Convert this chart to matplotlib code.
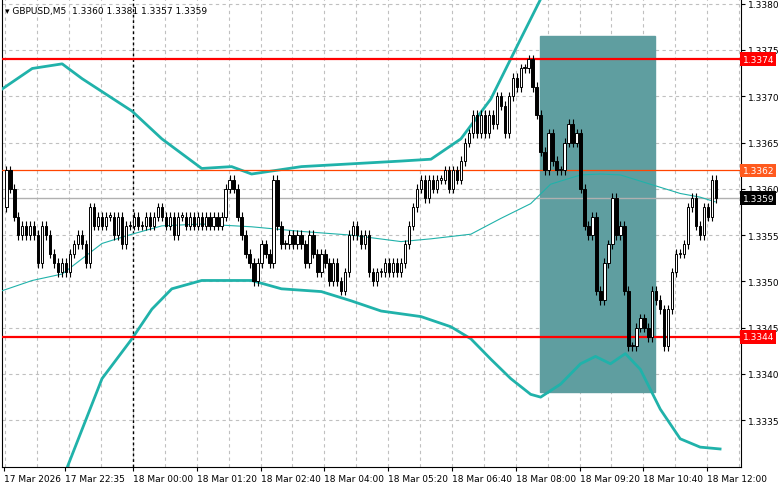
import matplotlib
matplotlib.use("Agg")
import matplotlib.pyplot as plt
from matplotlib.patches import Rectangle

closes = [1.3362,1.3360,1.3357,1.3355,1.3356,1.3355,1.3356,1.3355,1.3352,1.3356,
          1.3355,1.3353,1.3352,1.3351,1.3352,1.3351,1.3353,1.3354,1.3355,1.3354,
          1.3352,1.3358,1.3356,1.3357,1.3356,1.3357,1.3357,1.3355,1.3357,1.3354,
          1.3356,1.3356,1.3357,1.3356,1.3356,1.3357,1.3356,1.3357,1.3358,1.3357,
          1.3356,1.3357,1.3355,1.3357,1.3357,1.3356,1.3357,1.3356,1.3357,1.3356,
          1.3357,1.3356,1.3357,1.3356,1.3357,1.3360,1.3361,1.3360,1.3357,1.3355,
          1.3353,1.3352,1.3350,1.3352,1.3354,1.3353,1.3352,1.3361,1.3356,1.3354,
          1.3354,1.3355,1.3354,1.3355,1.3354,1.3352,1.3355,1.3353,1.3351,1.3353,
          1.3352,1.3350,1.3352,1.3350,1.3349,1.3351,1.3355,1.3356,1.3355,1.3354,
          1.3355,1.3351,1.3350,1.3351,1.3351,1.3352,1.3351,1.3352,1.3351,1.3352,
          1.3354,1.3356,1.3358,1.3360,1.3361,1.3359,1.3361,1.3360,1.3361,1.3361,
          1.3362,1.3360,1.3362,1.3361,1.3363,1.3365,1.3366,1.3368,1.3366,1.3368,
          1.3366,1.3368,1.3367,1.3370,1.3369,1.3366,1.3370,1.3372,1.3371,1.3373,
          1.3373,1.3374,1.3371,1.3368,1.3364,1.3362,1.3366,1.3363,1.3362,1.3362,
          1.3365,1.3367,1.3365,1.3366,1.3360,1.3356,1.3355,1.3357,1.3349,1.3348,
          1.3352,1.3354,1.3359,1.3355,1.3356,1.3349,1.3343,1.3343,1.3345,1.3346,
          1.3345,1.3344,1.3349,1.3348,1.3347,1.3343,1.3347,1.3351,1.3353,1.3353,
          1.3354,1.3358,1.3359,1.3356,1.3355,1.3358,1.3357,1.3361,1.3359]
first_open = 1.3358
wick = 0.00005

up_i = [-1,6.5,14,19,31.5,39,49,56.5,61.5,74,86.5,99,106.5,114,121.5,129,134,137.75]
up_p = [1.33708,1.33730,1.33735,1.33719,1.33684,1.33654,1.33622,1.33624,1.33616,1.33624,
        1.33627,1.33630,1.33632,1.33654,1.33697,1.33762,1.33805,1.33838]
mid_i = [-1,6.5,14,24,31.5,39,49,61.5,74,86.5,99,106.5,116.5,124,131.5,136.5,144,149,154,161.5,169,174,177.75]
mid_p = [1.33490,1.33501,1.33508,1.33541,1.33551,1.33560,1.33562,1.33559,1.33554,1.33550,
         1.33543,1.33546,1.33551,1.33568,1.33584,1.33605,1.33615,1.33616,1.33615,1.33605,
         1.33595,1.33591,1.33586]
lo_i = [14.5,15.25,24,31.5,36.5,41.5,49,61.5,69,79,86.5,94,104,111.5,116.5,121.5,126.5,131.5,
        134,139,144,147.75,151.5,155.25,159,164,169,174,179]
lo_p = [1.33265,1.33299,1.33395,1.33438,1.33470,1.33492,1.33501,1.33501,1.33492,1.33489,
        1.33479,1.33468,1.33462,1.33451,1.33438,1.33416,1.33395,1.33378,1.33375,1.33389,
        1.33411,1.33419,1.33411,1.33422,1.33405,1.33362,1.33330,1.33321,1.33319]

time_pos = [-0.5,14.75,31.75,47.75,63.75,79.75,95.75,111.75,127.75,143.75,159.75,175.75]
time_lab = ["17 Mar 2026","17 Mar 22:35","18 Mar 00:00","18 Mar 01:20","18 Mar 02:40",
            "18 Mar 04:00","18 Mar 05:20","18 Mar 06:40","18 Mar 08:00","18 Mar 09:20",
            "18 Mar 10:40","18 Mar 12:00"]
price_ticks = [1.3335,1.3340,1.3345,1.3350,1.3355,1.3360,1.3365,1.3370,1.3375,1.3380]
red_levels = [1.3374,1.3344]
orange_level = 1.3362
bid = 1.3359
box = (133.75,162.75,1.33381,1.33765)

fig = plt.figure(figsize=(7.81,4.89),dpi=100)
ax = fig.add_axes([0.003,0.0429,0.9488-0.003,0.957])
ax.set_xlim(-1,184.25)
ax.set_ylim(1.332995,1.33805)

for t in price_ticks:
    ax.axhline(t,color="#c0c0c0",ls=(0,(3,3)),lw=0.8,zorder=0)
for k in range(-4,20):
    ax.axvline(31.75+8*k,color="#c0c0c0",ls=(0,(3,3)),lw=0.8,zorder=0)
ax.axvline(31.75,color="black",ls=(0,(2,2)),lw=1,zorder=1)

ax.add_patch(Rectangle((box[0],box[2]),box[1]-box[0],box[3]-box[2],color="#5f9ea0",zorder=1))

ax.plot(up_i,up_p,color="#20b2aa",lw=2,zorder=3,solid_joinstyle="round")
ax.plot(lo_i,lo_p,color="#20b2aa",lw=2,zorder=3,solid_joinstyle="round")
ax.plot(mid_i,mid_p,color="#20b2aa",lw=0.8,zorder=3)

ax.axhline(red_levels[0],color="#ff0000",lw=1.6,zorder=4)
ax.axhline(red_levels[1],color="#ff0000",lw=1.6,zorder=4)
ax.axhline(orange_level,color="#ff4500",lw=0.9,zorder=4)
ax.axhline(bid,color="#b0b0b0",lw=1,zorder=2)

prev = first_open
for i,c in enumerate(closes):
    o = prev
    hi = max(o,c)+wick; lo = min(o,c)-wick
    ax.vlines(i,lo,hi,color="black",lw=0.8,zorder=5)
    bot = min(o,c); h = max(abs(c-o),0.000012)
    ax.add_patch(Rectangle((i-0.3,bot),0.6,h,facecolor="white" if c>=o else "black",
                           edgecolor="black",lw=0.7,zorder=6))
    prev = c

ax.yaxis.tick_right()
ax.set_yticks(price_ticks)
ax.set_yticklabels([f"{t:.4f}" for t in price_ticks])
ax.set_xticks(time_pos)
ax.set_xticklabels(time_lab,ha="left")
ax.tick_params(labelsize=6.5,length=3,pad=2)
for s in ax.spines.values():
    s.set_color("black")
ax.spines["top"].set_visible(False)

def tag(y,bg):
    ax.text(1.002,y,f"{y:.4f}",transform=ax.get_yaxis_transform(),va="center",ha="left",
            fontsize=6.5,color="white",bbox=dict(boxstyle="square,pad=0.25",fc=bg,ec="none"),
            zorder=10,clip_on=False)
tag(red_levels[0],"#ff0000"); tag(red_levels[1],"#ff0000")
tag(orange_level,"#ff5a1e"); tag(bid,"black")

ax.text(0.004,0.985,"\u25be GBPUSD,M5  1.3360 1.3381 1.3357 1.3359",transform=ax.transAxes,
        fontsize=6.5,va="top",ha="left")
fig.savefig("out.png",dpi=100)
